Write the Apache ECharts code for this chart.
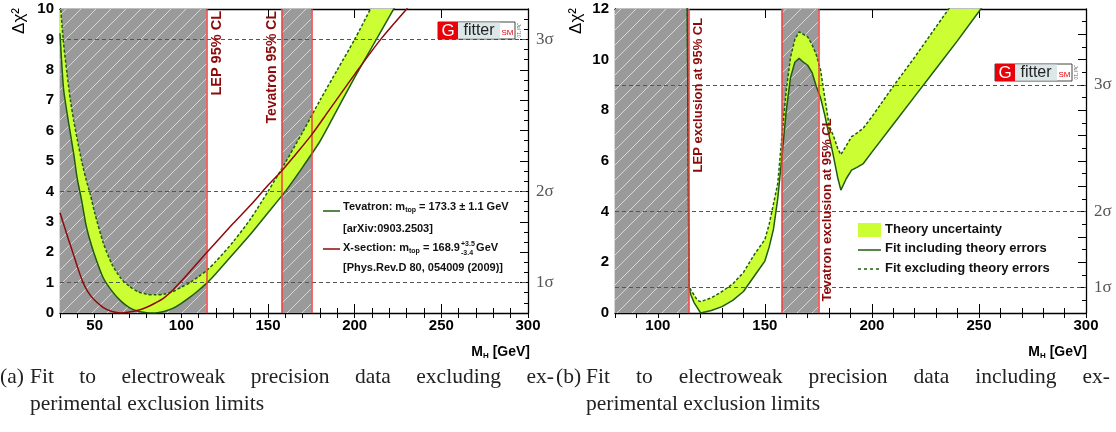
<!DOCTYPE html>
<html>
<head>
<meta charset="utf-8">
<script src="https://cdn.jsdelivr.net/npm/echarts@6/dist/echarts.min.js"></script>
<style>
html, body { margin: 0; padding: 0; background: #fff; }
#main { width: 1116px; height: 432px; }
</style>
</head>
<body>
<div id="main"></div>
<script>
// ---- data ----
// (a) fit without direct searches, Tevatron m_top
var massA = [30, 32, 34, 36, 38, 40, 42.5, 45, 47.5, 50, 55, 60, 65, 70, 75, 80, 85, 90, 95, 100, 105, 110, 115, 120, 130, 140, 150, 160, 170, 180, 190, 200, 210, 220, 225];
var inclA = [9.2, 7.4, 6.6, 5.9, 5.2, 4.4, 3.7, 2.9, 2.35, 1.9, 1.15, 0.72, 0.4, 0.18, 0.06, 0.01, 0.0, 0.05, 0.15, 0.32, 0.52, 0.75, 1.0, 1.3, 1.95, 2.6, 3.3, 4.0, 4.8, 5.65, 6.7, 7.75, 8.75, 9.75, 10.25];
var exclA = [10.3, 8.9, 7.9, 7.0, 6.3, 5.7, 5.0, 4.4, 3.9, 3.3, 2.3, 1.6, 1.15, 0.88, 0.7, 0.62, 0.6, 0.62, 0.7, 0.85, 1.0, 1.2, 1.42, 1.7, 2.35, 3.1, 4.0, 4.95, 5.95, 7.0, 8.0, 9.0, 10.1, 11.2, 11.8];
// (a) fit with m_top from the cross section
var xsMass = [30, 32.5, 35, 37.5, 40, 42.5, 45, 47.5, 50, 55, 60, 65, 70, 75, 80, 85, 90, 95, 100, 107, 114.4, 122, 130, 140, 150, 158, 165, 175, 185, 200, 215, 230, 236];
var xsChi2 = [3.3, 2.85, 2.4, 1.97, 1.53, 1.12, 0.8, 0.58, 0.42, 0.18, 0.05, 0.0, 0.03, 0.09, 0.19, 0.33, 0.5, 0.75, 1.05, 1.5, 1.97, 2.45, 2.95, 3.55, 4.2, 4.68, 5.15, 5.85, 6.65, 7.85, 9.0, 10.0, 10.4];
// (b) fit including direct searches
var massB = [113.6, 114.6, 115.5, 117, 118.5, 120, 125, 130, 135, 140, 145, 150, 152, 154, 156, 158, 160, 162, 164, 166, 168, 170, 172, 174, 176, 178, 180, 182, 184, 185.5, 188, 190.5, 193, 196, 200, 210, 220, 230, 240, 250, 256];
var inclB = [14, 1.0, 0.7, 0.4, 0.2, 0.0, 0.1, 0.25, 0.5, 0.85, 1.45, 2.05, 2.6, 3.3, 4.5, 6.2, 8.0, 9.3, 9.9, 10.05, 9.9, 9.78, 9.5, 8.95, 8.5, 7.8, 7.0, 6.2, 5.35, 4.85, 5.3, 5.64, 5.75, 5.9, 6.35, 7.45, 8.55, 9.65, 10.75, 11.9, 12.6];
var exclB = [14, 1.05, 0.9, 0.7, 0.5, 0.45, 0.6, 0.85, 1.15, 1.6, 2.3, 2.9, 3.5, 4.3, 5.1, 7.0, 8.8, 10.1, 10.8, 11.1, 11.0, 10.9, 10.6, 10.2, 9.6, 8.5, 7.4, 7.0, 6.5, 6.25, 6.6, 6.96, 7.1, 7.3, 7.75, 8.95, 10.1, 11.3, 12.5, 13.7, 14.4];

var limitLEP = 114.4;
var tevLow = 158, tevHigh = 175;
var sigmaLevels = [1, 4, 9];
var rangeA = [30, 300, 10];
var rangeB = [80, 300, 12];

var captionA = ['(a)', 'Fit to electroweak precision data excluding ex-', 'perimental exclusion limits'];
var captionB = ['(b)', 'Fit to electroweak precision data including ex-', 'perimental exclusion limits'];

// ---- styles ----
var SANS = '"Liberation Sans", Arial, sans-serif';
var SERIF = '"Liberation Serif", "Times New Roman", serif';
var GREEN = '#1f5c12', BAND = '#ccff33', DARKRED = '#8e0a0a', LIMIT = '#f03c3c';

var hatch = (function () {
	var c = document.createElement('canvas');
	c.width = 15; c.height = 15;
	var g = c.getContext('2d');
	g.fillStyle = '#9a9a9a';
	g.fillRect(0, 0, 15, 15);
	g.strokeStyle = 'rgba(235,235,235,0.75)';
	g.lineWidth = 1;
	g.beginPath();
	g.moveTo(-1, 16); g.lineTo(16, -1);
	g.stroke();
	return c;
})();

var mctx = document.createElement('canvas').getContext('2d');
function tw(font, s) { mctx.font = font; return mctx.measureText(s).width; }

function zip(xs, ys) { return xs.map(function (x, i) { return [x, ys[i]]; }); }

function xAxes(gi, min, max) {
	var majors = [];
	for (var v = Math.ceil(min / 50) * 50; v <= max; v += 50) majors.push(v);
	var line = {show: true, onZero: false, lineStyle: {color: '#000', width: 1.3}};
	function ax(pos, major, labels) {
		return {
			gridIndex: gi, type: 'value', min: min, max: max, position: pos,
			interval: major ? 50 : 10,
			axisLine: major ? line : {show: false},
			axisTick: major
				? {inside: true, length: 9, customValues: majors, lineStyle: {color: '#000'}}
				: {inside: true, length: 5, lineStyle: {color: '#000'}},
			axisLabel: labels
				? {customValues: majors, margin: 5, color: '#000', fontSize: 15, fontWeight: 'bold', fontFamily: SANS}
				: {show: false},
			splitLine: {show: false}
		};
	}
	return [ax('bottom', true, true), ax('bottom', false, false), ax('top', true, false), ax('top', false, false)];
}

function yAxes(gi, max, step, minorSplit, sideSplit) {
	var line = {show: true, onZero: false, lineStyle: {color: '#000', width: 1.3}};
	return [
		{gridIndex: gi, type: 'value', position: 'left', min: 0, max: max, interval: step,
			axisLine: line, axisTick: {inside: true, length: 11, lineStyle: {color: '#000'}},
			minorTick: {show: true, splitNumber: minorSplit, length: 6, lineStyle: {color: '#000'}},
			axisLabel: {margin: 6, color: '#000', fontSize: 15, fontWeight: 'bold', fontFamily: SANS},
			splitLine: {show: false}},
		{gridIndex: gi, type: 'value', position: 'right', min: 0, max: max, interval: 1,
			axisLine: line, axisTick: {inside: true, length: 8, lineStyle: {color: '#000'}},
			minorTick: {show: true, splitNumber: sideSplit, length: 4, lineStyle: {color: '#000'}},
			axisLabel: {margin: 8, color: '#555', fontSize: 17, fontFamily: SERIF,
				formatter: function (v) { var k = sigmaLevels.indexOf(v); return k < 0 ? '' : (k + 1) + 'σ'; }},
			splitLine: {show: false}}
	];
}

// theory band: polygon between the two fits, drawn through the axes
function bandSeries(xi, yi, mass, lo, hi) {
	return {
		type: 'custom', xAxisIndex: xi, yAxisIndex: yi, clip: true, z: 3, silent: true,
		data: mass.map(function (m, i) { return [m, lo[i], hi[i]]; }),
		encode: {x: 0, y: [1, 2]},
		renderItem: function (params, api) {
			if (params.dataIndex !== 0) return;
			var pts = [];
			for (var i = 0; i < mass.length; i++) pts.push(api.coord([mass[i], hi[i]]));
			for (var j = mass.length - 1; j >= 0; j--) pts.push(api.coord([mass[j], lo[j]]));
			return {type: 'polygon', shape: {points: pts}, style: {fill: BAND}};
		}
	};
}

function panel(xi, yi, xmin, mass, incl, excl, smooth) {
	return [
		{type: 'line', xAxisIndex: xi, yAxisIndex: yi, data: [], z: 1, silent: true,
			markArea: {silent: true, itemStyle: {color: {image: hatch, repeat: 'repeat'}, opacity: 1},
				data: [[{xAxis: xmin}, {xAxis: limitLEP}], [{xAxis: tevLow}, {xAxis: tevHigh}]]},
			markLine: {silent: true, symbol: 'none', label: {show: false},
				lineStyle: {color: '#555', type: [4, 3], width: 1},
				data: sigmaLevels.map(function (v) { return {yAxis: v}; })}},
		bandSeries(xi, yi, mass, incl, excl),
		{type: 'line', xAxisIndex: xi, yAxisIndex: yi, data: zip(mass, excl),
			symbol: 'none', smooth: smooth, z: 4, lineStyle: {color: GREEN, width: 1.5, type: [3, 2]}},
		{type: 'line', xAxisIndex: xi, yAxisIndex: yi, data: zip(mass, incl),
			symbol: 'none', smooth: smooth, z: 4, lineStyle: {color: GREEN, width: 1.5}},
		{type: 'line', xAxisIndex: xi, yAxisIndex: yi, data: [], z: 5, silent: true,
			markLine: {silent: true, symbol: 'none', label: {show: false},
				lineStyle: {color: LIMIT, type: 'solid', width: 1.5},
				data: [{xAxis: limitLEP}, {xAxis: tevLow}, {xAxis: tevHigh}]}}
	];
}

var series = panel(0, 0, rangeA[0], massA, inclA, exclA, 0.25);
series.push({type: 'line', xAxisIndex: 0, yAxisIndex: 0, data: zip(xsMass, xsChi2), symbol: 'none',
	smooth: 0.3, z: 6, lineStyle: {color: DARKRED, width: 1.5}});
var RB = series.length;
series = series.concat(panel(4, 2, rangeB[0], massB, inclB, exclB, false));

var chart = echarts.init(document.getElementById('main'));
chart.setOption({
	animation: false,
	grid: [
		{left: 60, top: 9, width: 468, height: 304},
		{left: 615, top: 9, width: 471, height: 304}
	],
	xAxis: xAxes(0, rangeA[0], rangeA[1]).concat(xAxes(1, rangeB[0], rangeB[1])),
	yAxis: yAxes(0, rangeA[2], 1, 5, 3).concat(yAxes(1, rangeB[2], 2, 4, 2)),
	series: series
});

// ---- annotations ----
function px(si, x, y) { return chart.convertToPixel({seriesIndex: si}, [x, y]); }
var g = [];
function text(x, y, s, font, fill, extra) {
	var el = {type: 'text', x: x, y: y, z: 100, silent: true,
		style: {text: s, font: font, fill: fill || '#111', align: 'left', verticalAlign: 'middle'}};
	if (extra) for (var k in extra) {
		if (k === 'style') for (var j in extra.style) el.style[j] = extra.style[j];
		else el[k] = extra[k];
	}
	g.push(el);
	return tw(font, s);
}
function seg(x1, y1, x2, y2, color, dash) {
	g.push({type: 'line', z: 100, silent: true, shape: {x1: x1, y1: y1, x2: x2, y2: y2},
		style: {stroke: color, lineWidth: 1.5, lineDash: dash || null}});
}
function upText(p, s, size, align, vAlign) {
	text(p[0], p[1], s, 'bold ' + size + 'px ' + SANS, DARKRED,
		{rotation: Math.PI / 2, style: {align: align, verticalAlign: vAlign}});
}

var p;
p = px(0, limitLEP, 10); upText([p[0] + 3, p[1] + 2], 'LEP 95% CL', 14.5, 'right', 'top');
p = px(0, tevLow, 10); upText([p[0] - 3, p[1] + 2], 'Tevatron 95% CL', 14, 'right', 'bottom');
p = px(RB, limitLEP, 11.65); upText([p[0] + 3, p[1]], 'LEP exclusion at 95% CL', 13, 'right', 'top');
p = px(RB, tevHigh, 0.45); upText([p[0] + 3, p[1]], 'Tevatron exclusion at 95% CL', 13, 'left', 'top');

// axis titles
function yName(x) {
	text(x, 8, 'Δχ²', '17px ' + SANS, '#000', {rotation: Math.PI / 2, style: {align: 'right', verticalAlign: 'middle'}});
}
yName(19); yName(576);
function xName(right) {
	var f = 'bold 14px ' + SANS, fs = 'bold 8px ' + SANS;
	var w = tw(f, 'M') + tw(fs, 'H') + tw(f, ' [GeV]');
	var x = right - w;
	x += text(x, 352, 'M', f, '#000');
	x += text(x, 356, 'H', fs, '#000');
	text(x, 352, ' [GeV]', f, '#000');
}
xName(530); xName(1087);

// legend (a)
var LF = 'bold 11px ' + SANS, SF = 'bold 7px ' + SANS;
seg(323, 211, 340, 211, GREEN);
var x = 343;
x += text(x, 207, 'Tevatron: m', LF);
x += text(x, 210, 'top', SF);
text(x, 207, ' = 173.3 ± 1.1 GeV', LF);
text(343, 229, '[arXiv:0903.2503]', LF);
seg(323, 249, 340, 249, DARKRED);
x = 343;
x += text(x, 248, 'X-section: m', LF);
x += text(x, 251, 'top', SF);
x += text(x, 248, ' = 168.9', LF);
text(x + 1, 244, '+3.5', SF);
x += 1 + text(x + 1, 253, '-3.4', SF);
text(x, 248, ' GeV', LF);
text(343, 268, '[Phys.Rev.D 80, 054009 (2009)]', LF);

// legend (b)
var RF = 'bold 13px ' + SANS;
g.push({type: 'rect', z: 100, silent: true, shape: {x: 858, y: 223, width: 23, height: 14}, style: {fill: BAND}});
text(885, 229, 'Theory uncertainty', RF);
seg(858, 250, 881, 250, GREEN);
text(885, 248, 'Fit including theory errors', RF);
seg(858, 269, 881, 269, GREEN, [3, 3]);
text(885, 268, 'Fit excluding theory errors', RF);

// Gfitter logos
function logo(x, y) {
	var h = 17;
	g.push({type: 'rect', z: 100, silent: true, shape: {x: x, y: y, width: 77, height: h}, style: {fill: '#fff', stroke: '#444', lineWidth: 1}});
	g.push({type: 'rect', z: 100, silent: true, shape: {x: x + 20, y: y + 0.5, width: 42, height: h - 1}, style: {fill: '#dce8e8'}});
	g.push({type: 'rect', z: 100, silent: true, shape: {x: x, y: y, width: 20, height: h}, style: {fill: '#e8000b'}});
	text(x + 10, y + h / 2 + 0.5, 'G', '17px ' + SANS, '#fff', {style: {align: 'center'}});
	text(x + 41, y + h / 2, 'fitter', '16px ' + SANS, '#222', {style: {align: 'center'}});
	text(x + 69.5, y + h / 2 + 2, 'SM', '8px ' + SANS, '#e8000b', {style: {align: 'center'}});
	text(x + 80, y + h / 2, "Jul '10", '5px ' + SANS, '#666', {rotation: -Math.PI / 2, style: {align: 'center'}});
}
logo(438, 22);
logo(995, 64);

// captions, justified like the typeset original
var CF = '21.5px ' + SERIF;
function caption(c, x0, x1) {
	text(x0, 377, c[0], CF, '#222');
	var body = x0 + 30;
	var words = c[1].split(' ');
	var ws = words.map(function (w) { return tw(CF, w); });
	var sum = ws.reduce(function (a, b) { return a + b; }, 0);
	var gap = (x1 - body - sum) / (words.length - 1);
	var xx = body;
	words.forEach(function (w, i) { text(xx, 377, w, CF, '#222'); xx += ws[i] + gap; });
	text(body, 404, c[2], CF, '#222');
}
caption(captionA, 0, 554);
caption(captionB, 556, 1110);

chart.setOption({graphic: g});
</script>
</body>
</html>
